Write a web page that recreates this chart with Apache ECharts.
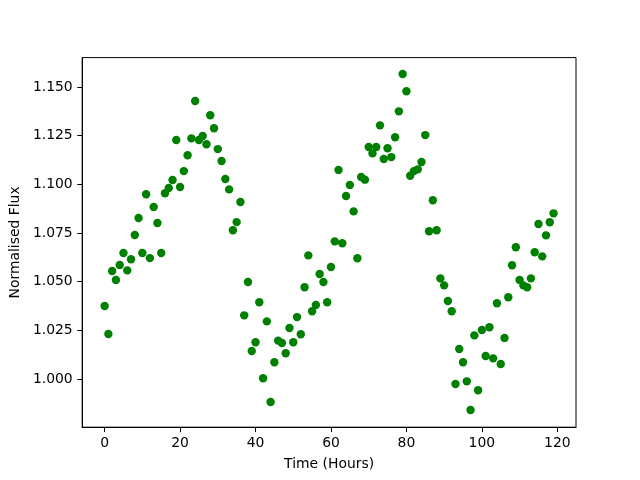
<!DOCTYPE html>
<html>
<head>
<meta charset="utf-8">
<script src="https://cdn.jsdelivr.net/npm/echarts@6/dist/echarts.min.js"></script>
<style>html,body{margin:0;padding:0;background:#fff}#c{width:640px;height:480px}</style>
</head>
<body>
<div id="c"></div>
<script>
var timeHours = [];
for (var i = 0; i < 120; i++) timeHours.push(i);
var flux = [
1.0375,1.0231,1.0555,1.0509,1.0586,1.0647,1.0558,1.0615,1.0740,1.0827,
1.0647,1.0949,1.0621,1.0884,1.0801,1.0647,1.0954,1.0981,1.1022,1.1228,
1.0986,1.1068,1.1149,1.1236,1.1428,1.1228,1.1248,1.1206,1.1355,1.1288,
1.1181,1.1120,1.1027,1.0974,1.0764,1.0806,1.0909,1.0327,1.0498,1.0144,
1.0189,1.0394,1.0004,1.0296,0.9882,1.0086,1.0197,1.0185,1.0132,1.0262,
1.0189,1.0318,1.0230,1.0471,1.0635,1.0348,1.0380,1.0539,1.0498,1.0394,
1.0575,1.0707,1.1074,1.0697,1.0940,1.0997,1.0861,1.0620,1.1038,1.1024,
1.1192,1.1159,1.1192,1.1303,1.1130,1.1185,1.1140,1.1242,1.1375,1.1567,
1.1478,1.1044,1.1068,1.1077,1.1115,1.1253,1.0759,1.0918,1.0764,1.0517,
1.0481,1.0401,1.0348,0.9974,1.0154,1.0086,0.9988,0.9841,1.0224,0.9942,
1.0252,1.0118,1.0266,1.0106,1.0389,1.0077,1.0211,1.0420,1.0584,1.0677,
1.0509,1.0481,1.0471,1.0517,1.0651,1.0796,1.0630,1.0738,1.0805,1.0851
];
var xTicks = [0, 20, 40, 60, 80, 100, 120];
var yTicks = [1.000, 1.025, 1.050, 1.075, 1.100, 1.125, 1.150];

var points = timeHours.map(function (t, i) { return [t, flux[i]]; });
var font = 'DejaVu Sans';
var chart = echarts.init(document.getElementById('c'), null, {renderer: 'canvas'});
chart.setOption({
  animation: false,
  backgroundColor: '#fff',
  grid: {left: 80, right: 64, top: 57.6, bottom: 52.8, show: true, borderColor: '#000', borderWidth: 1, backgroundColor: 'transparent'},
  xAxis: {
    type: 'value', min: -5.95, max: 124.95,
    name: 'Time (Hours)', nameLocation: 'middle', nameGap: 30,
    nameTextStyle: {fontFamily: font, fontSize: 13.9, color: '#000'},
    axisLine: {show: true, onZero: false, lineStyle: {color: '#000', width: 1}},
    axisTick: {show: true, inside: false, length: 4.9, lineStyle: {color: '#000', width: 1}, customValues: xTicks},
    axisLabel: {customValues: xTicks, margin: 9.5, fontFamily: font, fontSize: 13.9, color: '#000'},
    splitLine: {show: false}
  },
  yAxis: {
    type: 'value', min: 0.97524, max: 1.16510,
    name: 'Normalised Flux', nameLocation: 'middle', nameGap: 58,
    nameTextStyle: {fontFamily: font, fontSize: 13.9, color: '#000'},
    axisLine: {show: true, onZero: false, lineStyle: {color: '#000', width: 1}},
    axisTick: {show: true, inside: false, length: 4.9, lineStyle: {color: '#000', width: 1}, customValues: yTicks},
    axisLabel: {customValues: yTicks, margin: 9.5, fontFamily: font, fontSize: 13.9, color: '#000',
      formatter: function (v) { return v.toFixed(3); }},
    splitLine: {show: false}
  },
  series: [{
    type: 'scatter',
    data: points,
    symbol: 'circle',
    symbolSize: 8.4,
    itemStyle: {color: '#008000', opacity: 1},
    emphasis: {disabled: true}
  }]
});
</script>
</body>
</html>
